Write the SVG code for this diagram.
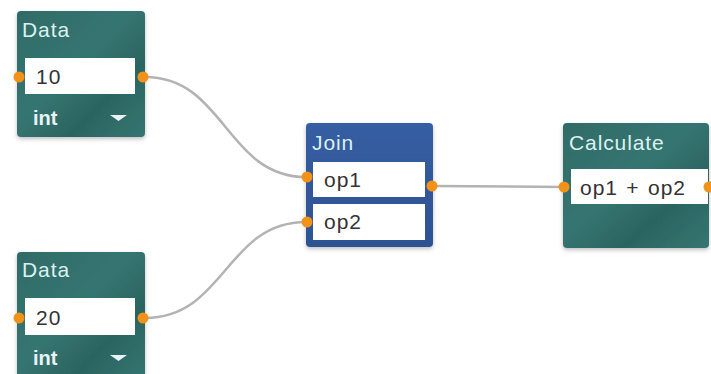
<svg xmlns="http://www.w3.org/2000/svg" width="711" height="374" viewBox="0 0 711 374">
  <style>
    .teal { fill: url(#tealGrad); }
    .blue { fill: url(#blueGrad); }
    .title { font-family: "Liberation Sans", Arial, sans-serif; font-size: 21px; letter-spacing: 0.9px; fill: #dcf1ef; }
    .field { fill: #ffffff; }
    .value { font-family: "Liberation Sans", Arial, sans-serif; font-size: 21px; letter-spacing: 1px; word-spacing: 1.5px; fill: #333333; }
    .type { font-family: "Liberation Sans", Arial, sans-serif; font-size: 20px; font-weight: bold; fill: #e8f4f3; }
    .port { fill: #f39219; }
    .wire { fill: none; stroke: #b3b3b3; stroke-width: 2.5; }
  </style>
  <defs>
    <linearGradient id="tealGrad" x1="0" y1="0" x2="1" y2="1">
      <stop offset="0" stop-color="#2f6b68"/>
      <stop offset="0.45" stop-color="#367571"/>
      <stop offset="0.7" stop-color="#2b6461"/>
      <stop offset="1" stop-color="#357672"/>
    </linearGradient>
    <linearGradient id="blueGrad" x1="0" y1="0" x2="0" y2="1">
      <stop offset="0" stop-color="#365ea2"/>
      <stop offset="1" stop-color="#2d5292"/>
    </linearGradient>
    <filter id="shadow" x="-10%" y="-10%" width="120%" height="125%">
      <feDropShadow dx="0" dy="2" stdDeviation="2" flood-color="#000000" flood-opacity="0.25"/>
    </filter>
  </defs>

  <!-- connectors -->
  <g id="connectors">
    <path class="wire" d="M145,77 C225,77 226,177 306,177"/>
    <path class="wire" d="M145,318 C225,318 226,222 306,222"/>
    <path class="wire" d="M433,186 L564,187"/>
  </g>

  <!-- Data node (10) -->
  <g id="data1">
    <rect class="teal" x="17" y="11" width="128" height="126" rx="4" filter="url(#shadow)"/>
    <text class="title" x="22" y="37">Data</text>
    <rect class="field" x="25" y="58" width="110" height="36"/>
    <text class="value" x="36" y="84">10</text>
    <text class="type" x="33" y="125">int</text>
    <path d="M110,115 L127,115 L118.5,121 Z" fill="#e8f4f3"/>
    <circle class="port" cx="19" cy="77" r="5.5"/>
    <circle class="port" cx="143" cy="77" r="5.5"/>
  </g>

  <!-- Data node (20) -->
  <g id="data2">
    <rect class="teal" x="17" y="252" width="128" height="130" rx="4" filter="url(#shadow)"/>
    <text class="title" x="22" y="277">Data</text>
    <rect class="field" x="25" y="298" width="110" height="37"/>
    <text class="value" x="36" y="325">20</text>
    <text class="type" x="33" y="365">int</text>
    <path d="M110,355 L127,355 L118.5,361 Z" fill="#e8f4f3"/>
    <circle class="port" cx="19" cy="318" r="5.5"/>
    <circle class="port" cx="143" cy="318" r="5.5"/>
  </g>

  <!-- Join node -->
  <g id="join">
    <rect class="blue" x="306" y="123" width="127" height="124" rx="4" filter="url(#shadow)"/>
    <text class="title" x="312" y="150">Join</text>
    <rect class="field" x="313" y="162" width="112" height="35"/>
    <text class="value" x="324" y="187">op1</text>
    <rect class="field" x="313" y="204" width="112" height="36"/>
    <text class="value" x="324" y="229">op2</text>
    <circle class="port" cx="307" cy="177" r="5.5"/>
    <circle class="port" cx="307" cy="222" r="5.5"/>
    <circle class="port" cx="432" cy="186" r="5.5"/>
  </g>

  <!-- Calculate node -->
  <g id="calculate">
    <rect class="teal" x="563" y="123" width="146" height="125" rx="4" filter="url(#shadow)"/>
    <text class="title" x="569" y="150">Calculate</text>
    <rect class="field" x="571" y="169" width="137" height="35"/>
    <text class="value" x="580" y="195">op1 + op2</text>
    <circle class="port" cx="564" cy="187" r="5.5"/>
    <circle class="port" cx="709" cy="187" r="5.5"/>
  </g>
</svg>
